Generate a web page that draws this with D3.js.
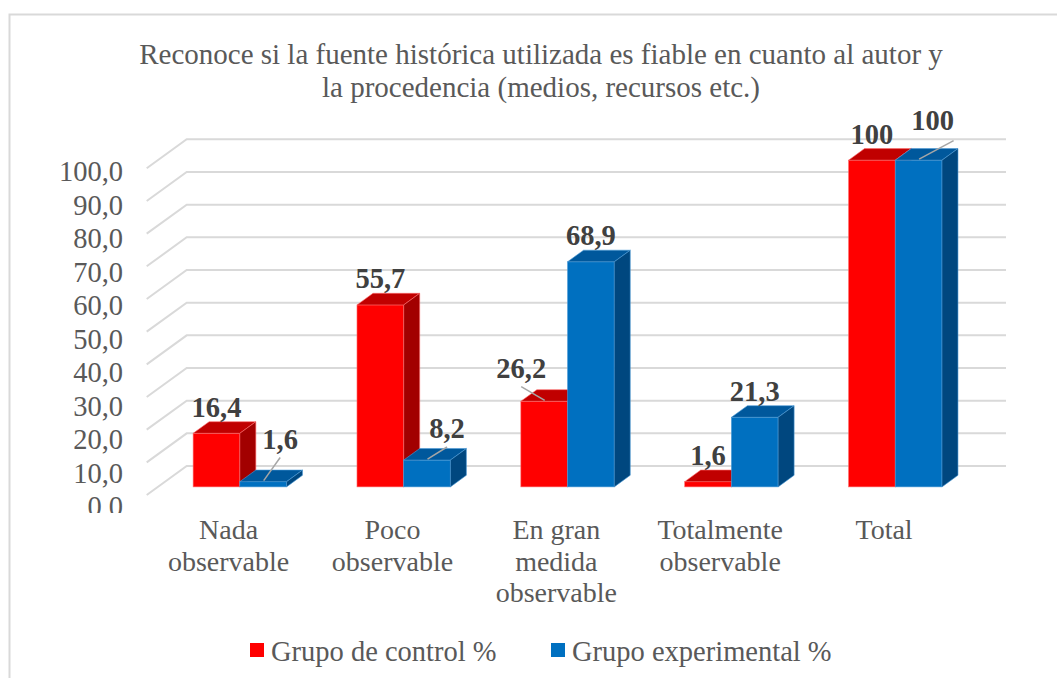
<!DOCTYPE html>
<html>
<head>
<meta charset="utf-8">
<script src="https://cdn.jsdelivr.net/npm/d3@7"></script>
<style>
	body { margin: 0; background: #fff; }
	svg { display: block; }
	svg text { font-family: "Liberation Serif", "Times New Roman", serif; }
</style>
</head>
<body>
<div id="chart-box"></div>
<script>
// chart values
const categories = ["Nada\nobservable", "Poco\nobservable", "En gran\nmedida\nobservable", "Totalmente\nobservable", "Total"];
const seriesNames = ["Grupo de control %", "Grupo experimental %"];
const controlValues = [16.4, 55.7, 26.2, 1.6, 100];
const experimentalValues = [1.6, 8.2, 68.9, 21.3, 100];
const yTicks = [0, 10, 20, 30, 40, 50, 60, 70, 80, 90, 100];
const titleLines = ["Reconoce si la fuente histórica utilizada es fiable en cuanto al autor y", "la procedencia (medios, recursos etc.)"];

const chart =
{
	draw: function ()
	{
		const w = 1057;
		const h = 678;
		//3d look: full depth offset of the walls
		const depthX = 40;
		const depthY = -29;
		const barFront = 0.28;
		const barBack = 0.68;
		const faces = [
			{front: "#FF0000", top: "#C00000", side: "#A20000", edge: "#FF6A6A"},
			{front: "#0070C0", top: "#00589C", side: "#00477F", edge: "#4C9BD6"}
		];
		const series = [controlValues, experimentalValues];
		const locale = d3.formatLocale({decimal: ",", thousands: ".", grouping: [3], currency: ["", ""]});
		const axisFmt = locale.format(".1f");
		const labelFmt = locale.format(".1~f");
		const serif = "Liberation Serif";

		const svg = d3.select("#chart-box")
		.append("svg")
		.attr("width", w)
		.attr("height", h);

		//chart border (cropped at right and bottom)
		svg.append("rect")
		.attr("x", 9.5).attr("y", 14.5)
		.attr("width", 1200).attr("height", 800)
		.attr("fill", "none")
		.attr("stroke", "#D9D9D9")
		.attr("stroke-width", 2);

		//title
		svg.append("text")
		.attr("text-anchor", "middle")
		.attr("fill", "#595959")
		.style("font-family", serif)
		.style("font-size", "29px")
		.selectAll("tspan")
		.data(titleLines)
		.enter().append("tspan")
		.attr("x", 541)
		.attr("y", (d, i) => 64 + i * 33)
		.text(d => d);

		//scales
		const yScale = d3.scaleLinear().domain([0, 100]).range([495, 168.3]);
		const xScale = d3.scaleBand().domain(categories).range([146.7, 966]).padding(0);
		const pairW = xScale.bandwidth() * 0.57;
		const xInner = d3.scaleBand().domain([0, 1]).range([0, pairW]);
		const proj = (x, v, d) => [x + depthX * d, yScale(v) + depthY * d];

		//gridlines: side wall diagonal + back wall
		const xLeft = xScale.range()[0];
		const xRight = xScale.range()[1];
		svg.append("g")
		.selectAll("polyline")
		.data(yTicks)
		.enter().append("polyline")
		.attr("points", (v) => [proj(xLeft, v, 0), proj(xLeft, v, 1), proj(xRight, v, 1)].map(p => p.join(",")).join(" "))
		.attr("fill", "none")
		.attr("stroke", "#D9D9D9")
		.attr("stroke-width", 2);

		//y labels (Excel spaces them a bit wider than the grid)
		const yLabelScale = d3.scaleLinear().domain([0, 100]).range([506, 171]);
		svg.append("clipPath").attr("id", "axclip")
		.append("rect").attr("x", 0).attr("y", 0).attr("width", 140).attr("height", 513);
		const yAxis = d3.axisLeft(yLabelScale).tickValues(yTicks).tickSize(0).tickPadding(0).tickFormat(axisFmt);
		const yg = svg.append("g")
		.attr("clip-path", "url(#axclip)")
		.append("g")
		.attr("transform", "translate(123,0)")
		.call(yAxis);
		yg.select(".domain").remove();
		yg.selectAll("text")
		.attr("fill", "#595959")
		.attr("dy", "0.34em")
		.style("font-size", "28.5px")
		.style("font-family", serif);

		//bars
		const barG = svg.append("g");
		const bars = [];
		categories.forEach((c, i) =>
		{
			const x0 = xScale(c) + (xScale.bandwidth() - pairW) / 2;
			series.forEach((vals, s) =>
			{
				const v = vals[i];
				const bx = x0 + xInner(s);
				const bw = xInner.bandwidth();
				const col = faces[s];
				const g = barG.append("g");
				const fA = proj(bx, v, barFront);
				const fB = proj(bx + bw, 0, barFront);
				const pts = (arr) => arr.map(p => p.join(",")).join(" ");
				g.append("rect")
				.attr("x", fA[0]).attr("y", fA[1])
				.attr("width", fB[0] - fA[0]).attr("height", fB[1] - fA[1])
				.attr("fill", col.front)
				.attr("stroke", col.edge).attr("stroke-width", 0.6);
				g.append("polygon")
				.attr("points", pts([proj(bx, v, barFront), proj(bx + bw, v, barFront), proj(bx + bw, v, barBack), proj(bx, v, barBack)]))
				.attr("fill", col.top)
				.attr("stroke", col.edge).attr("stroke-width", 0.6);
				g.append("polygon")
				.attr("points", pts([proj(bx + bw, v, barFront), proj(bx + bw, 0, barFront), proj(bx + bw, 0, barBack), proj(bx + bw, v, barBack)]))
				.attr("fill", col.side)
				.attr("stroke", col.edge).attr("stroke-width", 0.6);
				bars.push({s: s, i: i, v: v, cx: fA[0] + bw / 2, topFront: fA[1], topBack: proj(bx, v, barBack)[1]});
			});
		});

		//data labels, some moved away from the bar by hand in the original
		const nudges = {
			"1-0": {dx: 17, dy: -16, lx: 0},
			"1-1": {dx: 20, dy: -5, lx: 0},
			"0-2": {dx: -23, dy: -6.5, lx: 0},
			"1-4": {dx: 14, dy: -14, lx: 21}
		};
		const labG = svg.append("g");
		bars.forEach((b) =>
		{
			const n = nudges[b.s + "-" + b.i];
			let lx = b.cx;
			let ly = b.topBack - 5;
			if (n)
			{
				lx += n.dx;
				ly += n.dy;
				labG.append("line")
				.attr("x1", lx + n.lx).attr("y1", ly + (n.lx ? 11 : 8.5))
				.attr("x2", b.cx + 0.5).attr("y2", b.topFront - 1)
				.attr("stroke", "#A6A6A6")
				.attr("stroke-width", 1.5);
			}
			labG.append("text")
			.attr("x", lx)
			.attr("y", ly)
			.attr("text-anchor", "middle")
			.attr("fill", "#404040")
			.style("font-family", serif)
			.style("font-size", "28.5px")
			.style("font-weight", "bold")
			.text(labelFmt(b.v));
		});

		//category labels
		svg.append("g")
		.selectAll("text")
		.data(categories)
		.enter().append("text")
		.attr("text-anchor", "middle")
		.attr("fill", "#595959")
		.style("font-family", serif)
		.style("font-size", "28px")
		.each(function (c)
		{
			d3.select(this).selectAll("tspan")
			.data(c.split("\n"))
			.enter().append("tspan")
			.attr("x", xScale(c) + xScale.bandwidth() / 2)
			.attr("y", (d, k) => 539 + k * 31.5)
			.text(d => d);
		});

		//legend
		const legendX = [250, 551];
		const legend = svg.selectAll(".legend")
		.data(seriesNames)
		.enter().append("g")
		.attr("class", "legend")
		.attr("transform", (d, i) => "translate(" + legendX[i] + ",643)");
		legend.append("rect")
		.attr("width", 14).attr("height", 14)
		.attr("fill", (d, i) => faces[i].front);
		legend.append("text")
		.attr("x", 21)
		.attr("y", 18)
		.attr("fill", "#595959")
		.style("font-family", serif)
		.style("font-size", "28.5px")
		.text(d => d);
	}
};

document.addEventListener("DOMContentLoaded", function ()
{
	chart.draw();
});
</script>
</body>
</html>
